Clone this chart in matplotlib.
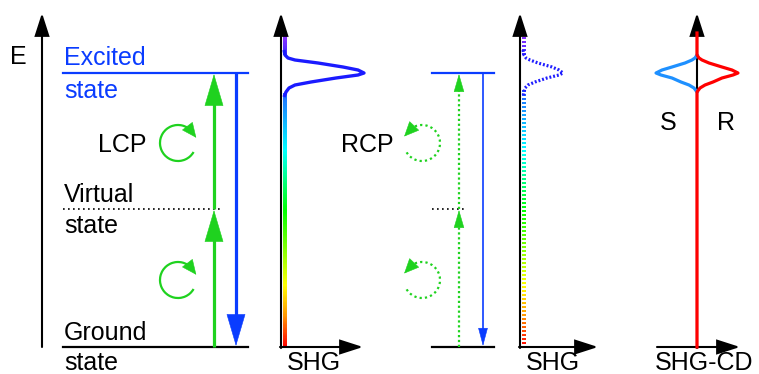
import numpy as np
import matplotlib
matplotlib.use('Agg')
import matplotlib.pyplot as plt
from matplotlib.patches import FancyArrowPatch, Arc
from matplotlib.colors import LinearSegmentedColormap, Normalize

plt.rcParams['font.family'] = ['Liberation Sans', 'DejaVu Sans']

#=====================================
# data (scheme is drawn in pixel units, y grows downwards)

level_names = ['Excited', 'Virtual', 'Ground']
level_y = [73, 209, 347]

# SHG peak: row and horizontal offset from the axis
peak_y = [50, 55, 58, 60, 63, 67, 70, 73, 75, 78, 82, 85, 88, 92, 97]
shg_lcp = [0, 1, 4, 11, 34, 59, 74, 80, 74, 52, 27, 11, 5, 2, 0]
shg_rcp = [0, 1, 3, 7, 15, 29, 36, 40, 36, 24, 12, 5, 2, 1, 0]
shg_cd = [0, 0, 2, 5, 12, 25, 35, 41, 36, 25, 16, 8, 3, 0, 0]

axis_labels = ['SHG', 'SHG', 'SHG-CD']
cd_labels = ['S', 'R']

# rainbow along the spectrum axis (row -> colour)
rainbow_rows = [33, 55, 73, 100, 150, 210, 285, 315, 347]
rainbow_colors = ['#9933ff', '#3a2aff', '#1a1aff', '#1e7fff', '#00ffff',
                  '#00ff00', '#ffff00', '#ff9900', '#ff0000']

GREEN = '#1fd21f'
BLUE = '#0a3cff'
SKY = '#1e90ff'
RED = '#ff0000'

#=====================================

def arrow(ax, p0, p1, color, lw, hl, hw, z=3):
    a = FancyArrowPatch(p0, p1, arrowstyle='-|>,head_length={},head_width={}'.format(hl, hw),
                        mutation_scale=1, color=color, lw=lw, shrinkA=0, shrinkB=0,
                        joinstyle='miter', zorder=z)
    ax.add_patch(a)

def head(ax, p0, p1, color, hl, hw, z=4):
    '''filled arrow head only, thin edge'''
    arrow(ax, p0, p1, color, 0.4, hl, hw, z)

def circ_pt(c, r, phi):
    '''point on a circle at visual angle phi (deg, counterclockwise)'''
    t = np.deg2rad(phi)
    return (c[0] + r * np.cos(t), c[1] - r * np.sin(t))

def circ_arrow(ax, c, r, phi0, phi1, head0, head1, ls):
    # Arc angles are in data space where y is flipped
    ax.add_patch(Arc(c, 2 * r, 2 * r, theta1=-phi1, theta2=-phi0, color=GREEN,
                     lw=1.6, linestyle=ls))
    head(ax, circ_pt(c, r, head0), circ_pt(c, r + 1, head1), GREEN, 10, 4.5)

def rainbow_strip(ax, x0, x1, y0, y1, cmap, norm, dotted=False):
    rows = np.arange(y0, y1, 1.0)
    img = np.ma.masked_array(rows[:, None], mask=np.zeros((len(rows), 1), bool))
    if dotted:
        img.mask[:, 0] = (np.arange(len(rows)) // 2) % 2 == 1
    ax.imshow(img, cmap=cmap, norm=norm, extent=[x0, x1, y1, y0], aspect='auto',
              interpolation='nearest', zorder=2)

#=====================================

def main():
    fig = plt.figure(figsize=(7.59, 3.74), dpi=100)
    ax = fig.add_axes([0, 0, 1, 1])
    ax.set_xlim(0, 759)
    ax.set_ylim(374, 0)
    ax.axis('off')

    cmap = LinearSegmentedColormap.from_list(
        'rb', list(zip(np.interp(rainbow_rows, [33, 347], [0, 1]), rainbow_colors)))
    norm = Normalize(33, 347)
    fs = 18

    y_ex, y_vi, y_gr = level_y

    # ---- panel 1: energy scheme, LCP
    arrow(ax, (42, 347), (42, 13), 'k', 1.5, 14, 4.5)
    ax.text(10, 64, 'E', fontsize=fs, va='baseline')
    ax.plot([63, 248], [y_ex, y_ex], color=BLUE, lw=1.6)
    ax.plot([63, 220], [y_vi, y_vi], color='k', lw=1.2, ls=(0, (1, 2)))
    ax.plot([63, 248], [y_gr, y_gr], color='k', lw=1.6)
    ax.text(64, 65, level_names[0], fontsize=fs, color=BLUE)
    ax.text(64, 98, 'state', fontsize=fs, color=BLUE)
    ax.text(64, 202, level_names[1], fontsize=fs)
    ax.text(64, 233, 'state', fontsize=fs)
    ax.text(64, 340, level_names[2], fontsize=fs)
    ax.text(64, 370, 'state', fontsize=fs)

    # solid arrows: shaft + narrow head
    ax.plot([214, 214], [y_gr, y_vi + 25], color=GREEN, lw=2.3, solid_capstyle='butt')
    ax.plot([214, 214], [y_vi, y_ex + 25], color=GREEN, lw=2.3, solid_capstyle='butt')
    head(ax, (214, y_vi + 30), (214, y_vi + 1), GREEN, 22, 6.5)
    head(ax, (214, y_ex + 30), (214, y_ex + 1), GREEN, 22, 6.5)
    ax.plot([236, 236], [y_ex, y_gr - 25], color=BLUE, lw=2.3, solid_capstyle='butt')
    head(ax, (236, y_gr - 30), (236, y_gr - 1), BLUE, 22, 6.5)

    ax.text(122, 152, 'LCP', fontsize=fs, ha='center')
    for cy in (143, 280):
        circ_arrow(ax, (178, cy), 18, 40, 330, 48, 16, '-')

    # ---- panel 2: SHG spectrum for LCP
    x2 = 281
    arrow(ax, (x2, 348), (x2, 13), 'k', 1.5, 14, 4.5)
    arrow(ax, (x2 - 1, 347), (363, 347), 'k', 1.5, 14, 4.5)
    rainbow_strip(ax, x2 + 1.5, x2 + 5, 33, 55, cmap, norm)
    rainbow_strip(ax, x2 + 1.5, x2 + 5, 93, 347, cmap, norm)
    ax.plot(x2 + 3 + np.array(shg_lcp), peak_y, color=cmap(norm(73)), lw=2.4,
            solid_capstyle='butt', zorder=3)
    ax.text(314, 370, axis_labels[0], fontsize=fs, ha='center')

    # ---- panel 3: energy scheme, RCP
    ax.plot([432, 494], [y_ex, y_ex], color=BLUE, lw=1.6)
    ax.plot([432, 466], [y_vi, y_vi], color='k', lw=1.2, ls=(0, (1, 2)))
    ax.plot([432, 494], [y_gr, y_gr], color='k', lw=1.6)
    ax.plot([459, 459], [y_gr, y_vi + 12], color=GREEN, lw=1.6, ls=(0, (1, 1.2)))
    ax.plot([459, 459], [y_vi, y_ex + 12], color=GREEN, lw=1.6, ls=(0, (1, 1.2)))
    head(ax, (459, y_vi + 16), (459, y_vi + 1), GREEN, 12, 3.5)
    head(ax, (459, y_ex + 16), (459, y_ex + 1), GREEN, 12, 3.5)
    ax.plot([483, 483], [y_ex, y_gr - 12], color=BLUE, lw=1.2)
    head(ax, (483, y_gr - 16), (483, y_gr - 1), BLUE, 12, 3.2)

    ax.text(367, 152, 'RCP', fontsize=fs, ha='center')
    for cy in (143, 280):
        circ_arrow(ax, (422, cy), 18, 208, 490, 122, 160, (0, (1, 1.4)))

    # ---- panel 4: SHG spectrum for RCP (dotted)
    x3 = 520
    arrow(ax, (x3, 348), (x3, 13), 'k', 1.5, 14, 4.5)
    arrow(ax, (x3 - 1, 347), (598, 347), 'k', 1.5, 14, 4.5)
    rainbow_strip(ax, x3 + 1.5, x3 + 5, 33, 56, cmap, norm, dotted=True)
    rainbow_strip(ax, x3 + 1.5, x3 + 5, 90, 347, cmap, norm, dotted=True)
    ax.plot(x3 + 3 + np.array(shg_rcp), peak_y, color=cmap(norm(70)), lw=2.3,
            ls=(0, (0.6, 0.6)), zorder=3)
    ax.text(553, 370, axis_labels[1], fontsize=fs, ha='center')

    # ---- panel 5: SHG-CD
    x4 = 697
    arrow(ax, (x4, 348), (x4, 13), 'k', 1.5, 14, 4.5)
    arrow(ax, (657, 347), (740, 347), 'k', 1.5, 14, 4.5)
    ax.plot(x4 - np.array(shg_cd[1:-1]), peak_y[1:-1], color=SKY, lw=2.3, zorder=3)
    cd_rows = [33] + peak_y + [347]
    cd_x = [x4] + list(x4 + np.array(shg_cd)) + [x4]
    ax.plot(cd_x, cd_rows, color=RED, lw=2.3, zorder=4)
    ax.text(668, 130, cd_labels[0], fontsize=fs, ha='center')
    ax.text(726, 130, cd_labels[1], fontsize=fs, ha='center')
    ax.text(704, 370, axis_labels[2], fontsize=fs, ha='center')

    fig.savefig('out.png', dpi=100)

#=====================================

if __name__ == "__main__":
    main()
